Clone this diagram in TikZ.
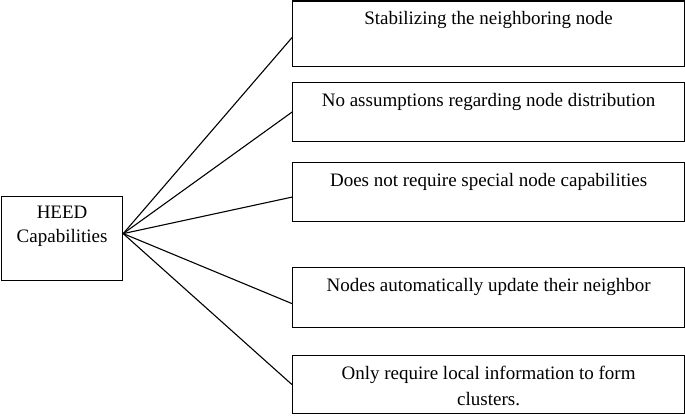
\documentclass[tikz,border=0pt]{standalone}
\usepackage{fontspec}
\setmainfont{Liberation Serif}
\usetikzlibrary{positioning}

\begin{document}
\begin{tikzpicture}[x=1pt,y=-1pt,
  box/.style={draw,line width=1.2pt,anchor=north west,minimum width=#1,inner sep=0pt},
  txt/.style={anchor=north,inner sep=0pt,align=center,font=\fontsize{19}{26}\selectfont},
  link/.style={line width=1.1pt}]
\useasboundingbox (0,0) rectangle (685,415);

\node[box=121pt,minimum height=84pt] (heed) at (1,196) {};
\node[txt,below=10pt of heed.north,font=\fontsize{19}{24}\selectfont] {HEED\\Capabilities};

\node[box=392pt,minimum height=65pt] (b1) at (292,0.5) {};
\node[box=392pt,minimum height=59pt] (b2) at (292,82) {};
\node[box=392pt,minimum height=59pt] (b3) at (292,162) {};
\node[box=392pt,minimum height=60pt] (b4) at (292,267) {};
\node[box=392pt,minimum height=58pt] (b5) at (292,355) {};

\node[txt,below=11pt of b1.north] {Stabilizing the neighboring node};
\node[txt,below=11pt of b2.north] {No assumptions regarding node distribution};
\node[txt,below=11pt of b3.north] {Does not require special node capabilities};
\node[txt,below=11pt of b4.north] {Nodes automatically update their neighbor};
\node[txt,below=11pt of b5.north] {Only require local information to form\\clusters.};

%connectors
\coordinate (hub) at ([yshift=5pt]heed.east);
\draw[link] (hub) -- ([yshift=-4pt]b1.west);
\draw[link] (hub) -- (b2.west);
\draw[link] (hub) -- ([yshift=-5pt]b3.west);
\draw[link] (hub) -- ([yshift=-6pt]b4.west);
\draw[link] (hub) -- (b5.west);
\end{tikzpicture}
\end{document}
